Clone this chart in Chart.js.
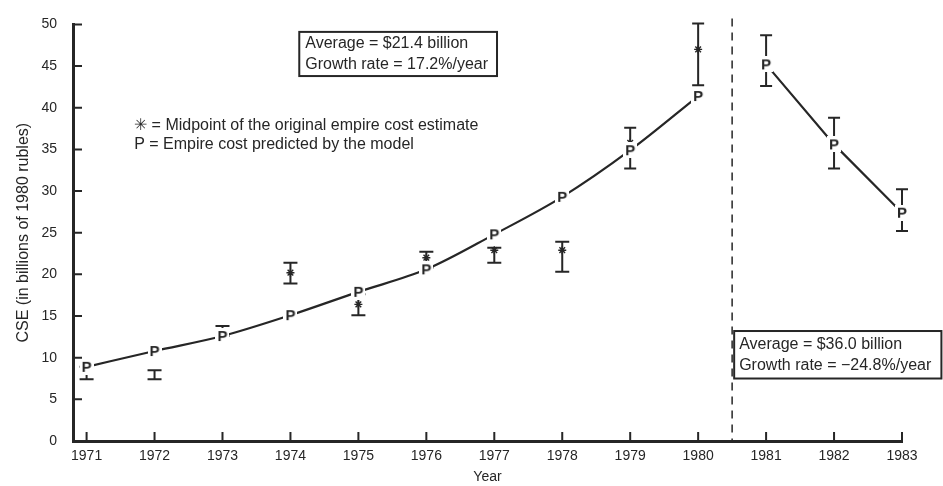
<!DOCTYPE html>
<html>
<head>
<meta charset="utf-8">
<script src="https://cdn.jsdelivr.net/npm/chart.js@4"></script>
<style>
  html, body { margin: 0; padding: 0; background: #fff; }
  #wrap { width: 943px; height: 486px; }
</style>
</head>
<body>
<div id="wrap"><canvas id="cseChart" width="943" height="486"></canvas></div>
<script>
// years on the x axis
const years = [1971, 1972, 1973, 1974, 1975, 1976, 1977, 1978, 1979, 1980, 1981, 1982, 1983];
// model prediction (P), two separate periods
const modelYearsA = [1971, 1972, 1973, 1974, 1975, 1976, 1977, 1978, 1979, 1980];
const modelA = [8.9, 10.8, 12.6, 15.1, 17.9, 20.6, 24.8, 29.3, 34.9, 41.4];
const modelYearsB = [1981, 1982, 1983];
const modelB = [45.2, 35.6, 27.4];
// range of the original estimates (error bars) and their midpoints
const rangeLow  = [7.4, 7.4, 12.6, 18.9, 15.1, 20.8, 21.4, 20.3, 32.7, 42.7, 42.6, 32.7, 25.2];
const rangeHigh = [8.9, 8.5, 13.8, 21.4, 17.6, 22.7, 23.2, 23.9, 37.6, 50.1, 48.7, 38.8, 30.2];
const midpoints = [null, null, null, 20.2, 16.4, 22.0, 22.9, 22.9, 35.8, 47.0, null, null, null];
const yTicks = [0, 5, 10, 15, 20, 25, 30, 35, 40, 45, 50];

const ink = '#262626';
const font = '"Liberation Sans", Arial, sans-serif';

// "P" glyph used as the point style for the model
function makeP() {
    const c = document.createElement('canvas');
    c.width = 14; c.height = 16;
    const g = c.getContext('2d');
    g.fillStyle = '#fff';
    g.fillRect(0, 0, 14, 16);
    g.fillStyle = ink;
    g.font = 'bold 15px ' + font;
    g.textAlign = 'center';
    g.textBaseline = 'middle';
    g.fillText('P', 7, 8.5);
    return c;
}
const pGlyph = makeP();

// error bars, drawn before the datasets so the P markers sit on top
const errorBars = {
    id: 'errorBars',
    beforeDatasetsDraw(chart) {
        const { ctx, scales: { x, y } } = chart;
        ctx.save();
        ctx.strokeStyle = ink;
        ctx.lineWidth = 2;
        years.forEach((yr, i) => {
            const px = x.getPixelForValue(yr);
            const lo = y.getPixelForValue(rangeLow[i]);
            const hi = y.getPixelForValue(rangeHigh[i]);
            const w = yr >= 1979 ? 6 : 7;
            ctx.beginPath();
            ctx.moveTo(px, lo); ctx.lineTo(px, hi);
            ctx.moveTo(px - w, lo); ctx.lineTo(px + w, lo);
            ctx.moveTo(px - w, hi); ctx.lineTo(px + w, hi);
            ctx.stroke();
        });
        ctx.restore();
    }
};

// axis ticks pointing inward, dashed divider and the text notes
const extras = {
    id: 'extras',
    afterDraw(chart) {
        const { ctx, chartArea: a, scales: { x, y } } = chart;
        ctx.save();
        ctx.strokeStyle = ink;
        ctx.lineWidth = 2;
        ctx.beginPath();
        yTicks.forEach(v => {
            const py = y.getPixelForValue(v);
            ctx.moveTo(a.left, py); ctx.lineTo(a.left + 9, py);
        });
        years.forEach(v => {
            const px = x.getPixelForValue(v);
            ctx.moveTo(px, a.bottom); ctx.lineTo(px, a.bottom - 9);
        });
        ctx.stroke();

        // divider between the two periods
        const dx = x.getPixelForValue(1980.5);
        ctx.lineWidth = 1.5;
        ctx.setLineDash([8, 6]);
        ctx.beginPath();
        ctx.moveTo(dx, a.top - 6); ctx.lineTo(dx, a.bottom);
        ctx.stroke();
        ctx.setLineDash([]);

        ctx.fillStyle = ink;
        ctx.font = '16px ' + font;
        ctx.textBaseline = 'middle';

        // box for the first period
        const b1x = x.getPixelForValue(1974.13), b1y = y.getPixelForValue(49.1);
        const b1r = x.getPixelForValue(1977.04), b1b = y.getPixelForValue(43.8);
        ctx.lineWidth = 2;
        ctx.strokeRect(b1x, b1y, b1r - b1x, b1b - b1y);
        ctx.fillText('Average = $21.4 billion', b1x + 6, b1y + 12);
        ctx.fillText('Growth rate = 17.2%/year', b1x + 6, b1y + 33);

        // key
        const kx = x.getPixelForValue(1971.7);
        ctx.fillText('\u2733 = Midpoint of the original empire cost estimate', kx, y.getPixelForValue(37.9));
        ctx.fillText('P = Empire cost predicted by the model', kx, y.getPixelForValue(35.6));

        // box for the second period
        const b2x = x.getPixelForValue(1980.53), b2y = y.getPixelForValue(13.2);
        const b2r = x.getPixelForValue(1983.58), b2b = y.getPixelForValue(7.5);
        ctx.strokeRect(b2x, b2y, b2r - b2x, b2b - b2y);
        ctx.fillText('Average = $36.0 billion', b2x + 5, b2y + 14);
        ctx.fillText('Growth rate = \u221224.8%/year', b2x + 5, b2y + 35);
        ctx.restore();
    }
};

const ctx = document.getElementById('cseChart').getContext('2d');
new Chart(ctx, {
    type: 'line',
    data: {
        datasets: [
            {
                label: 'Model 1971-1980',
                data: modelYearsA.map((yr, i) => ({ x: yr, y: modelA[i] })),
                borderColor: ink,
                borderWidth: 2.2,
                cubicInterpolationMode: 'monotone',
                pointStyle: pGlyph,
                clip: false,
                order: 1
            },
            {
                label: 'Model 1981-1983',
                data: modelYearsB.map((yr, i) => ({ x: yr, y: modelB[i] })),
                borderColor: ink,
                borderWidth: 2.2,
                pointStyle: pGlyph,
                clip: false,
                order: 1
            },
            {
                label: 'Midpoint',
                type: 'scatter',
                data: years.map((yr, i) => ({ x: yr, y: midpoints[i] })).filter(p => p.y !== null),
                pointStyle: 'star',
                pointRadius: 4,
                borderColor: ink,
                borderWidth: 1.4,
                backgroundColor: '#fff',
                clip: false,
                order: 2
            }
        ]
    },
    options: {
        responsive: false,
        animation: false,
        layout: { padding: { top: 14, right: 41, left: 14, bottom: 0 } },
        plugins: {
            legend: { display: false },
            tooltip: { enabled: false }
        },
        scales: {
            x: {
                type: 'linear',
                min: 1970.8,
                max: 1983,
                afterBuildTicks: s => { s.ticks = years.map(v => ({ value: v })); },
                afterFit: s => { s.height = 45; },
                grid: { display: false, drawTicks: false },
                border: { display: true, color: ink, width: 3 },
                ticks: {
                    color: ink,
                    padding: 7,
                    font: { family: font, size: 14 },
                    callback: v => String(v)
                },
                title: {
                    display: true,
                    text: 'Year',
                    color: ink,
                    padding: { top: 0, bottom: 0 },
                    font: { family: font, size: 14 }
                }
            },
            y: {
                min: 0,
                max: 50,
                afterBuildTicks: s => { s.ticks = yTicks.map(v => ({ value: v })); },
                afterFit: s => { s.width = 59; },
                grid: { display: false, drawTicks: false },
                border: { display: true, color: ink, width: 3 },
                ticks: {
                    color: ink,
                    padding: 16,
                    font: { family: font, size: 14 }
                },
                title: {
                    display: true,
                    text: 'CSE (in billions of 1980 rubles)',
                    color: ink,
                    padding: { top: 0, bottom: 0 },
                    font: { family: font, size: 16 }
                }
            }
        }
    },
    plugins: [errorBars, extras]
});
</script>
</body>
</html>
